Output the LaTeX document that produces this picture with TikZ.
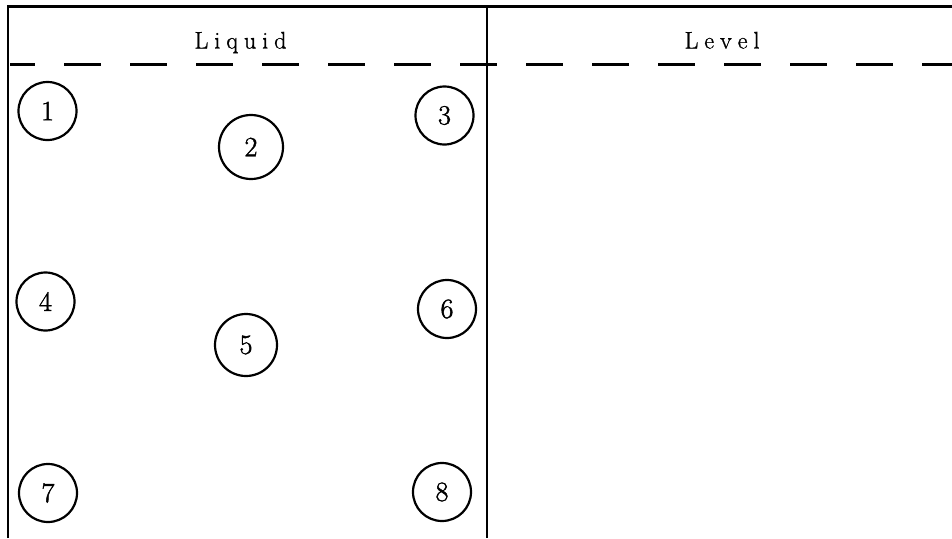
\documentclass[tikz,border=0pt]{standalone}
\usepackage{fontspec}
\setmainfont{Latin Modern Roman}
\newfontfamily\digfont{Latin Modern Roman}[FakeBold=1.6]
\newfontfamily\headfont{Latin Modern Roman}[FakeBold=1.0]
\newcommand{\hk}{\kern6pt}
\begin{document}
\begin{tikzpicture}[x=1pt,y=1pt,
  frame/.style={line width=2.8pt},
  dashline/.style={line width=2.8pt, dash pattern=on 37pt off 29pt, dash phase=12pt},
  circ/.style={circle, draw, line width=2.2pt, minimum size=58pt, inner sep=0pt, font=\digfont\fontsize{28}{32}\selectfont},
  head/.style={anchor=base, inner sep=0pt, font=\headfont\fontsize{24}{28}\selectfont}]
\useasboundingbox (0,0) rectangle (952,-538);
\fill[white] (0,0) rectangle (952,-538);
% frame
\coordinate (tl) at (8,-6.5);
\coordinate (tr) at (952,-6.5);
\coordinate (bl) at (8,-538);
\coordinate (mt) at (487,-6.5);
\coordinate (mb) at (487,-538);
\coordinate (dl) at (10,-64.5);
\coordinate (dr) at (952,-64.5);
\draw[frame] (bl) -- (tl) -- (tr);
\draw[frame] (mt) -- (mb);
\draw[dashline] (dl) -- (dr);
% headings
\node[head] (liq) at (240.5,-48.5) {L\hk i\hk q\hk u\hk i\hk d};
\node[head] (lev) at (722,-48.5) {L\hk e\hk v\hk e\hk l};
% circles
\node[circ] (c1) at (47.5,-111) {1};
\node[circ, minimum size=64pt] (c2) at (251,-147) {2};
\node[circ] (c3) at (444.5,-115.5) {3};
\node[circ] (c4) at (45.5,-301.5) {4};
\node[circ, minimum size=62pt] (c5) at (246,-345) {5};
\node[circ] (c6) at (447,-309) {6};
\node[circ] (c7) at (48,-493) {7};
\node[circ] (c8) at (442,-492) {8};
\end{tikzpicture}
\end{document}
